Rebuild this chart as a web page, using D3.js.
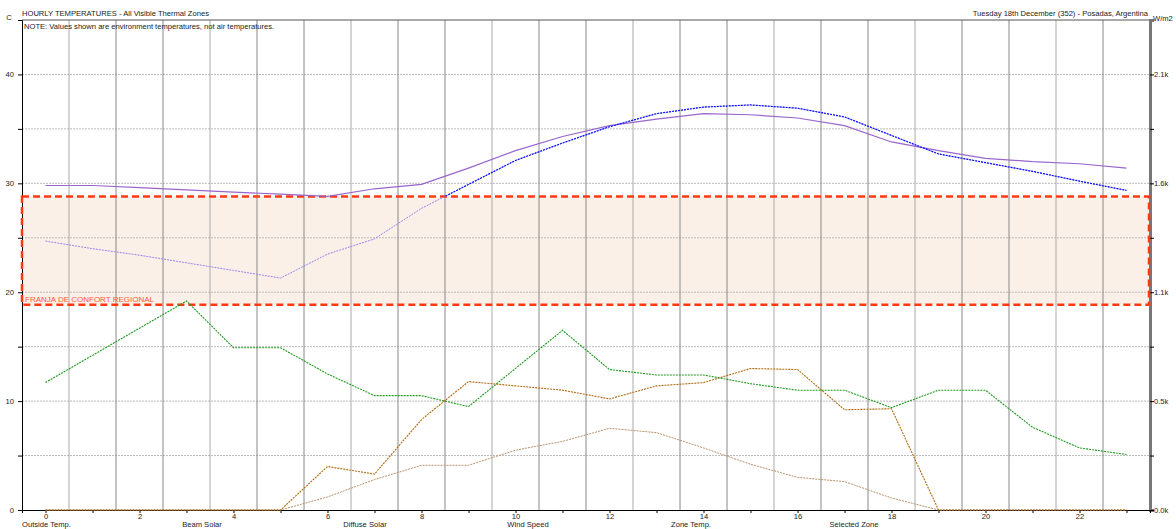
<!DOCTYPE html>
<html>
<head>
<meta charset="utf-8">
<script src="https://cdn.jsdelivr.net/npm/d3@7"></script>
<style>
  body { margin: 0; background: #fff; }
  svg text { font-family: "Liberation Sans", Arial, sans-serif; font-size: 7.6px; fill: #222; }
</style>
</head>
<body>
<script>
// ---- data ----
var hours = d3.range(0, 24);
var outsideTemp = [29.8, 29.8, 29.6, 29.4, 29.2, 29.0, 28.8, 29.5, 29.9, 31.4, 33.0, 34.3,
                   35.3, 35.9, 36.4, 36.3, 36.0, 35.3, 33.8, 33.0, 32.3, 32.0, 31.8, 31.4];
var zoneTemp    = [24.7, 24.0, 23.4, 22.7, 22.0, 21.3, 23.5, 24.9, 27.7, 29.9, 32.1, 33.7,
                   35.2, 36.4, 37.0, 37.2, 36.9, 36.1, 34.4, 32.7, 31.9, 31.1, 30.2, 29.35];
var windSpeed   = [11.7, 14.2, 16.7, 19.2, 14.9, 14.9, 12.5, 10.5, 10.5, 9.5, 13.0, 16.5,
                   12.9, 12.4, 12.4, 11.6, 11.0, 11.0, 9.4, 11.0, 11.0, 7.6, 5.7, 5.1];
// solar in W/m2 (right axis)
var beamSolar    = [0, 0, 0, 0, 0, 0, 213, 176, 443, 629, 608, 587,
                    544, 608, 624, 693, 688, 491, 496, 0, 0, 0, 0, 0];
var diffuseSolar = [0, 0, 0, 0, 0, 0, 64, 149, 219, 219, 293, 336,
                    400, 379, 304, 224, 160, 139, 59, 0, 0, 0, 0, 0];
var comfortBand = [18.85, 28.8];
var legendNames = ["Outside Temp.", "Beam Solar", "Diffuse Solar", "Wind Speed", "Zone Temp.", "Selected Zone"];

// ---- layout ----
var W = 1176, H = 529;
var margin = {left: 22, right: 26, top: 20, bottom: 19};
var width = W - margin.left - margin.right,
    height = H - margin.top - margin.bottom;

var svg = d3.select("body").append("svg")
    .attr("width", W).attr("height", H);
var g = svg.append("g")
    .attr("transform", "translate(" + margin.left + "," + margin.top + ")");

var x = d3.scaleLinear().domain([-0.5, 23.5]).range([0, width]);
var y = d3.scaleLinear().domain([0, 45]).range([height, 0]);
var yR = d3.scaleLinear().domain([0, 2400]).range([height, 0]);

// comfort band fill
g.append("rect")
    .attr("x", 0).attr("width", width)
    .attr("y", y(comfortBand[1]))
    .attr("height", y(comfortBand[0]) - y(comfortBand[1]))
    .attr("fill", "#fbf0e7");

// horizontal grid
g.selectAll(".hgrid")
    .data(d3.range(5, 45, 5))
    .join("line")
    .attr("x1", 0).attr("x2", width)
    .attr("y1", function(d) { return y(d); })
    .attr("y2", function(d) { return y(d); })
    .attr("stroke", "#bbb")
    .attr("stroke-dasharray", "2,1");

// vertical lines at half hours
g.selectAll(".vgrid")
    .data(d3.range(0.5, 23, 1))
    .join("line")
    .attr("x1", function(d) { return x(d); })
    .attr("x2", function(d) { return x(d); })
    .attr("y1", 0).attr("y2", height)
    .attr("stroke", function(d, i) { return i % 3 == 0 ? "#aaa" : "#888"; })
    .attr("stroke-width", 1);

// top border
g.append("line")
    .attr("x1", 0).attr("x2", width).attr("y1", 0).attr("y2", 0)
    .attr("stroke", "#555");

// ---- axes ----
// left axis
var yAxis = d3.axisLeft(y)
    .tickValues(d3.range(0, 45, 5))
    .tickSize(4)
    .tickFormat(function(d) { return d % 10 == 0 ? d : ""; });
var ya = g.append("g").call(yAxis);
ya.select(".domain").attr("stroke", "#000");
ya.selectAll("text").attr("dx", "-1");

// right axis
var rTicks = d3.range(0, 45, 5).map(function(d) { return d * 2400 / 45; });
var yAxisR = d3.axisRight(yR)
    .tickValues(rTicks)
    .tickSize(4)
    .tickFormat(function(d, i) { return i % 2 == 0 ? (d / 1000).toFixed(1) + "k" : ""; });
var yr = g.append("g")
    .attr("transform", "translate(" + width + ",0)")
    .call(yAxisR);
yr.select(".domain").attr("stroke", "#777").attr("stroke-width", 3);
yr.selectAll("text").attr("dx", "-3");

// bottom axis
var xAxis = d3.axisBottom(x)
    .tickValues(hours)
    .tickSize(3)
    .tickFormat(function(d) { return d % 2 == 0 ? d : ""; });
var xa = g.append("g")
    .attr("transform", "translate(0," + height + ")")
    .call(xAxis);
xa.select(".domain").attr("stroke", "#000");
xa.selectAll("text").attr("dy", "0.4em");
g.selectAll(".tick text").style("font-size", "7.6px").style("font-family", "Liberation Sans, Arial, sans-serif").attr("fill", "#222");

// comfort band border
g.append("rect")
    .attr("x", 0).attr("width", width - 1)
    .attr("y", y(comfortBand[1]))
    .attr("height", y(comfortBand[0]) - y(comfortBand[1]))
    .attr("fill", "none")
    .attr("stroke", "#ff3a12")
    .attr("stroke-width", 2.5)
    .attr("stroke-dasharray", "7,4");

g.append("text")
    .text("FRANJA DE CONFORT REGIONAL")
    .attr("x", 3)
    .attr("y", y(comfortBand[0]) - 3)
    .style("fill", "#ff5a3a")
    .style("font-size", "8px");

// ---- series ----
function drawLine(values, scale, color, dash, w) {
    var line = d3.line()
        .x(function(d, i) { return x(hours[i]); })
        .y(function(d) { return scale(d); });
    return g.append("path")
        .datum(values)
        .attr("d", line)
        .attr("fill", "none")
        .attr("stroke", color)
        .attr("stroke-width", w || 1)
        .attr("stroke-dasharray", dash);
}

drawLine(diffuseSolar, yR, "#b8916a", "2,1", 1);
drawLine(beamSolar, yR, "#b0690f", "2,1", 1.1);
drawLine(windSpeed, y, "#1f9a1f", "2,1", 1.1);
drawLine(zoneTemp, y, "#9b84ee", "2,1", 1);
drawLine(outsideTemp, y, "#9966cc", null, 1.2);

// selected zone shown in blue above the comfort band
g.append("clipPath").attr("id", "aboveBand")
    .append("rect")
    .attr("x", 0).attr("y", 0)
    .attr("width", width).attr("height", y(comfortBand[1]));
drawLine(zoneTemp, y, "#0a14ff", "2,1", 1.2)
    .attr("clip-path", "url(#aboveBand)");

// legend names under the axis
svg.selectAll(".legendName")
    .data(legendNames)
    .join("text")
    .attr("x", function(d, i) { return i == 0 ? margin.left : 202 + (i - 1) * 163; })
    .attr("y", 527)
    .attr("text-anchor", function(d, i) { return i == 0 ? "start" : "middle"; })
    .text(function(d) { return d; });

// titles
svg.append("text").text("C").attr("x", 9).attr("y", 20).attr("text-anchor", "middle");
svg.append("text").text("W/m2").attr("x", 1153).attr("y", 21);
svg.append("text").text("HOURLY TEMPERATURES - All Visible Thermal Zones").attr("x", 22).attr("y", 16);
svg.append("text").text("NOTE: Values shown are environment temperatures, not air temperatures.").attr("x", 24).attr("y", 29);
svg.append("text").text("Tuesday 18th December (352) - Posadas, Argentina")
    .attr("x", 1148).attr("y", 16).attr("text-anchor", "end");
</script>
</body>
</html>
